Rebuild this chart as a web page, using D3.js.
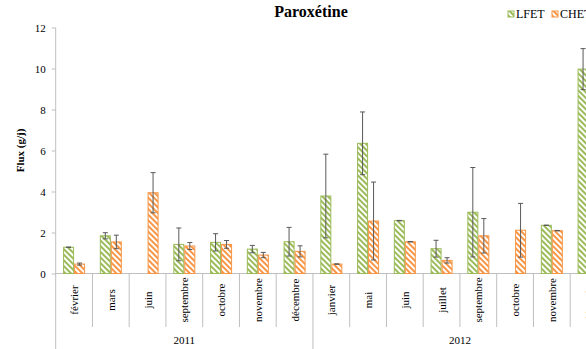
<!DOCTYPE html>
<html>
<head>
<meta charset="utf-8">
<script src="https://cdn.jsdelivr.net/npm/d3@7"></script>
<style>
  body { margin: 0; background: #fff; }
  svg { display: block; font-family: "Liberation Serif", "Times New Roman", serif; }
</style>
</head>
<body>
<svg id="chart" width="586" height="349"></svg>
<script>
// months and years (x axis, two levels)
const months = ["février", "mars", "juin", "septembre", "octobre", "novembre", "décembre",
                "janvier", "mai", "juin", "juillet", "septembre", "octobre", "novembre", "décembre"];
const years = [{label: "2011", first: 0, count: 7}, {label: "2012", first: 7, count: 8}];

// flux values (null = no bar)
const lfet    = [1.28, 1.84, null, 1.42, 1.52, 1.19, 1.55, 3.78, 6.35, 2.58, 1.21, 2.99, null, 2.35, 9.97];
const lfetErr = [0.01, 0.15, null, 0.80, 0.42, 0.18, 0.70, 2.04, 1.53, 0.01, 0.41, 2.18, null, 0.01, 1.00];
const chet    = [0.46, 1.54, 3.94, 1.34, 1.42, 0.90, 1.08, 0.46, 2.56, 1.55, 0.64, 1.84, 2.11, 2.09, null];
const chetErr = [0.05, 0.33, 0.98, 0.17, 0.19, 0.13, 0.27, 0.01, 1.90, 0.01, 0.13, 0.84, 1.31, 0.01, null];

const yTicks = [0, 2, 4, 6, 8, 10, 12];

const series = [
    {name: "LFET", values: lfet, errors: lfetErr, color: "#9bbb59"},
    {name: "CHET", values: chet, errors: chetErr, color: "#f79646"}
];

const svg = d3.select("#chart");

const plotLeft = 55.7, plotTop = 27.5, plotBottom = 273.5;
const bandW = 36.75;

let x0 = d3.scaleBand()
    .domain(d3.range(months.length))
    .range([plotLeft, plotLeft + bandW * months.length])
    .padding(0);

let x1 = d3.scaleBand()
    .domain(series.map(s => s.name))
    .range([bandW / 2 - 11, bandW / 2 + 11]);

let y = d3.scaleLinear().domain([0, 12]).range([plotBottom, plotTop]);

// hatch patterns
const defs = svg.append("defs");
series.forEach(function(s) {
    let p = defs.append("pattern")
        .attr("id", "hatch-" + s.name)
        .attr("patternUnits", "userSpaceOnUse")
        .attr("width", 4)
        .attr("height", 4)
        .attr("patternTransform", "rotate(-45)");
    p.append("rect").attr("width", 4).attr("height", 4).attr("fill", "#fff");
    p.append("rect").attr("width", 2).attr("height", 4).attr("fill", s.color);
});

// title
svg.append("text")
    .attr("x", 311)
    .attr("y", 17)
    .attr("text-anchor", "middle")
    .style("font-size", "16px")
    .style("font-weight", "bold")
    .text("Paroxétine");

// y axis
let yAxis = d3.axisLeft(y).tickValues(yTicks).tickSize(4).tickPadding(6);
let gy = svg.append("g")
    .attr("transform", "translate(" + plotLeft + ",0)")
    .call(yAxis);
gy.select(".domain").remove();
gy.selectAll(".tick line").attr("stroke", "#bfbfbf");
gy.selectAll(".tick text")
    .style("font-family", "Liberation Serif, serif")
    .style("font-size", "11px")
    .attr("fill", "#000");

svg.append("line")
    .attr("x1", plotLeft).attr("x2", plotLeft)
    .attr("y1", plotTop).attr("y2", 349)
    .attr("stroke", "#bfbfbf");

svg.append("text")
    .attr("transform", "translate(24," + ((plotTop + plotBottom) / 2) + ") rotate(-90)")
    .attr("text-anchor", "middle")
    .style("font-size", "11px")
    .style("font-weight", "bold")
    .text("Flux (g/j)");

// x axis base and category separators
svg.append("line")
    .attr("x1", plotLeft).attr("x2", x0.range()[1])
    .attr("y1", plotBottom).attr("y2", plotBottom)
    .attr("stroke", "#bfbfbf");

const yearStarts = years.map(d => d.first);
svg.append("g").selectAll("line")
    .data(d3.range(1, months.length + 1))
    .join("line")
    .attr("x1", d => x0(d - 1) + bandW)
    .attr("x2", d => x0(d - 1) + bandW)
    .attr("y1", plotBottom)
    .attr("y2", d => yearStarts.includes(d) ? 349 : 327)
    .attr("stroke", "#bfbfbf");

svg.append("g").selectAll("text")
    .data(months)
    .join("text")
    .attr("transform", (d, i) => "translate(" + (x0(i) + bandW / 2 + 4) + ",300) rotate(-90)")
    .attr("text-anchor", "middle")
    .style("font-size", "11px")
    .text(d => d);

svg.append("g").selectAll("text")
    .data(years)
    .join("text")
    .attr("x", d => x0(d.first) + d.count * bandW / 2)
    .attr("y", 344)
    .attr("text-anchor", "middle")
    .style("font-size", "11px")
    .text(d => d.label);

// bars
series.forEach(function(s) {
    let pts = s.values.map((v, i) => ({i: i, v: v, e: s.errors[i]})).filter(d => d.v !== null);
    let g = svg.append("g");
    g.selectAll("rect")
        .data(pts)
        .join("rect")
        .attr("x", d => x0(d.i) + x1(s.name) + 0.5)
        .attr("y", d => y(d.v))
        .attr("width", x1.bandwidth() - 1)
        .attr("height", d => y(0) - y(d.v))
        .attr("fill", "url(#hatch-" + s.name + ")")
        .attr("stroke", s.color)
        .attr("stroke-width", 1);

    // error bars
    let eg = svg.append("g").attr("stroke", "#595959").attr("stroke-width", 1);
    pts.forEach(function(d) {
        let cx = x0(d.i) + x1(s.name) + x1.bandwidth() / 2;
        let y1 = y(d.v + d.e), y2 = y(Math.max(0, d.v - d.e));
        eg.append("line").attr("x1", cx).attr("x2", cx).attr("y1", y1).attr("y2", y2);
        eg.append("line").attr("x1", cx - 2.5).attr("x2", cx + 2.5).attr("y1", y1).attr("y2", y1);
        eg.append("line").attr("x1", cx - 2.5).attr("x2", cx + 2.5).attr("y1", y2).attr("y2", y2);
    });
});

// legend
let legend = svg.append("g").selectAll("g")
    .data(series)
    .join("g")
    .attr("transform", (d, i) => "translate(" + (508 + i * 44) + ",11)");
legend.append("rect")
    .attr("width", 6).attr("height", 6)
    .attr("fill", d => "url(#hatch-" + d.name + ")")
    .attr("stroke", d => d.color);
legend.append("text")
    .attr("x", 8)
    .attr("y", 7)
    .style("font-size", "12px")
    .text(d => d.name);
</script>
</body>
</html>
